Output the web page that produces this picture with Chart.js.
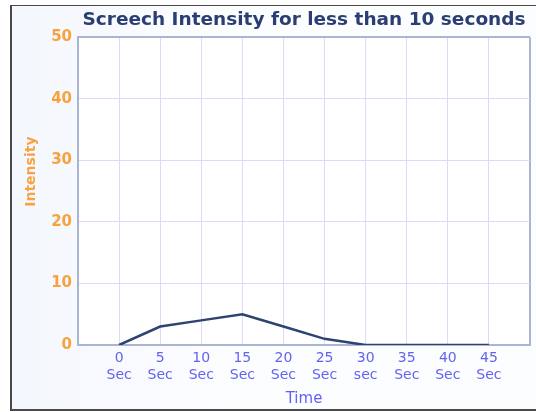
<!DOCTYPE html>
<html>
<head>
<meta charset="utf-8">
<script src="https://cdn.jsdelivr.net/npm/chart.js@4/dist/chart.umd.min.js"></script>
<style>
  html, body { margin: 0; padding: 0; background: #fff; }
  #frame {
    position: absolute; left: 10px; top: 5px; width: 540px; height: 403px;
    border: 1px solid #4a4a4a; border-left-width: 2px; border-bottom-width: 2px;
    background: linear-gradient(90deg, #f4f7fd 0%, #fcfdff 40%, #fcfdff 100%);
  }
  #wrap { position: absolute; left: 0; top: 0; width: 536px; height: 412px; }
</style>
</head>
<body>
<div id="frame"></div>
<div id="wrap"><canvas id="grafico-grito" width="536" height="412"></canvas></div>
<script>
// dados do grafico
const tempos = [0, 5, 10, 15, 20, 25, 30, 35, 40, 45]
const intensidade = [0, 3, 4, 5, 3, 1, 0, 0, 0, 0]
const rotulosTempo = ["Sec", "Sec", "Sec", "Sec", "Sec", "Sec", "sec", "Sec", "Sec", "Sec"]
const ticksY = [0, 10, 20, 30, 40, 50]

const corBorda = "#a9b5d1"
const corGrade = "#dadafc"
const fonte = "'DejaVu Sans', Verdana, sans-serif"

// fundo branco so na area do grafico
const fundoArea = {
    id: "fundoArea",
    beforeDraw(chart) {
        const { ctx, chartArea } = chart
        ctx.save()
        ctx.fillStyle = "#ffffff"
        ctx.fillRect(chartArea.left, chartArea.top, chartArea.right - chartArea.left, chartArea.bottom - chartArea.top)
        ctx.restore()
    }
}

let myChartGrito = new Chart(
    document.getElementById("grafico-grito"),
    {
        type: "line",
        data: {
            datasets: [{
                label: "Intensity",
                data: tempos.map((t, i) => ({ x: t, y: intensidade[i] })),
                borderColor: "#2f4373",
                borderWidth: 2.5,
                pointRadius: 0,
                tension: 0,
                fill: false,
            }]
        },
        options: {
            responsive: false,
            animation: false,
            layout: { padding: { left: 10, right: 6, top: 0, bottom: 4 } },
            scales: {
                x: {
                    type: "linear",
                    min: -5,
                    max: 50,
                    afterBuildTicks: scale => {
                        scale.ticks = [-5].concat(tempos, [50]).map(v => ({ value: v }))
                    },
                    afterFit: scale => { scale.height = 63 },
                    ticks: {
                        autoSkip: false,
                        maxRotation: 0,
                        padding: 5,
                        color: "#6363f2",
                        font: { family: fonte, size: 14, lineHeight: 1.22 },
                        callback: value => {
                            const i = tempos.indexOf(value)
                            return i < 0 ? "" : [String(value), rotulosTempo[i]]
                        }
                    },
                    grid: {
                        drawTicks: false,
                        color: ctx => ctx.tick && ctx.tick.value === 50 ? corBorda : corGrade,
                        lineWidth: ctx => ctx.tick && ctx.tick.value === 50 ? 2 : 1,
                    },
                    border: { color: corBorda, width: 2 },
                    title: {
                        display: true,
                        text: "Time",
                        color: "#6363f2",
                        font: { family: fonte, size: 15 },
                        padding: { top: 0, bottom: 0 }
                    }
                },
                y: {
                    min: 0,
                    max: 50,
                    afterBuildTicks: scale => {
                        scale.ticks = ticksY.map(v => ({ value: v }))
                    },
                    afterFit: scale => { scale.width = 68 },
                    ticks: {
                        padding: 6,
                        color: "#f9a03f",
                        font: { family: fonte, size: 15, weight: "bold" },
                    },
                    grid: {
                        drawTicks: false,
                        color: ctx => ctx.tick && ctx.tick.value === 50 ? corBorda : corGrade,
                        lineWidth: ctx => ctx.tick && ctx.tick.value === 50 ? 2 : 1,
                    },
                    border: { color: corBorda, width: 2 },
                    title: {
                        display: true,
                        // espacos na frente sobem o texto, como no original
                        text: "        Intensity",
                        color: "#f9a03f",
                        font: { family: fonte, size: 14, weight: "bold" },
                        padding: { top: 13, bottom: 0 }
                    }
                }
            },
            plugins: {
                legend: { display: false },
                tooltip: { enabled: false },
                title: {
                    display: true,
                    fullSize: false,
                    text: "Screech Intensity for less than 10 seconds",
                    color: "#2b3e73",
                    font: { family: fonte, size: 18.5, weight: "bold", lineHeight: 1.2 },
                    padding: { top: 9, bottom: 6 }
                }
            }
        },
        plugins: [fundoArea]
    }
)
</script>
</body>
</html>
